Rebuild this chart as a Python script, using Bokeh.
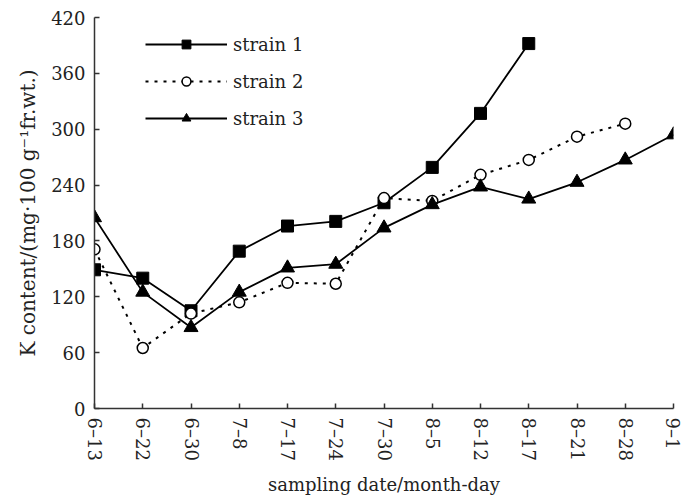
from bokeh.plotting import figure
from bokeh.models import Range1d, FixedTicker, Legend, LegendItem
from bokeh.embed import file_html
from bokeh.resources import INLINE

dates = ["6–13", "6–22", "6–30", "7–8", "7–17", "7–24", "7–30",
         "8–5", "8–12", "8–17", "8–21", "8–28", "9–1"]
strain1 = [149, 140, 105, 169, 196, 201, 221, 259, 317, 392]
strain2 = [171, 65, 102, 114, 135, 134, 226, 223, 251, 267, 292, 306]
strain3 = [205, 125, 87, 125, 151, 155, 194, 219, 238, 225, 243, 267, 294]
y_ticks = [0, 60, 120, 180, 240, 300, 360, 420]

x_pos = list(range(len(dates)))
FONT = "DejaVu Serif"

p = figure(width=682, height=497, x_range=Range1d(0, len(dates) - 1),
           y_range=Range1d(0, 420), output_backend="svg", toolbar_location=None,
           min_border_left=94, min_border_top=17, min_border_right=9,
           min_border_bottom=88)
p.outline_line_color = None
p.xgrid.grid_line_color = None
p.ygrid.grid_line_color = None
p.background_fill_color = "white"
p.border_fill_color = "white"

# x axis
xa = p.xaxis[0]
xa.ticker = FixedTicker(ticks=x_pos)
xa.major_label_overrides = {i: d for i, d in zip(x_pos, dates)}
xa.major_label_orientation = "vertical"
xa.axis_label = "sampling date/month-day"
# y axis
ya = p.yaxis[0]
ya.ticker = FixedTicker(ticks=y_ticks)
ya.axis_label = "K content/(mg·100 g⁻¹fr.wt.)"

for ax in (xa, ya):
    ax.major_tick_in = 5
    ax.major_tick_out = 0
    ax.minor_tick_line_color = None
    ax.axis_line_color = "#333333"
    ax.axis_line_width = 1.5
    ax.major_tick_line_color = "#333333"
    ax.major_tick_line_width = 1.5
    ax.major_label_text_font = FONT
    ax.major_label_text_font_size = "18px"
    ax.major_label_text_color = "#222222"
    ax.axis_label_text_font = FONT
    ax.axis_label_text_font_style = "normal"
    ax.axis_label_text_color = "#222222"
    ax.major_label_standoff = 9
xa.axis_label_text_font_size = "18px"
ya.axis_label_text_font_size = "20px"
xa.axis_label_standoff = 10
ya.axis_label_standoff = 8

l1 = p.line(x_pos[:len(strain1)], strain1, line_color="black", line_width=1.8)
s1 = p.scatter(x_pos[:len(strain1)], strain1, marker="square", size=12,
               fill_color="black", line_color="black")
l2 = p.line(x_pos[:len(strain2)], strain2, line_color="black", line_width=2,
            line_dash="3 6")
s2 = p.scatter(x_pos[:len(strain2)], strain2, marker="circle", size=11,
               fill_color="white", line_color="black", line_width=1.5)
l3 = p.line(x_pos[:len(strain3)], strain3, line_color="black", line_width=1.8)
s3 = p.scatter(x_pos[:len(strain3)], strain3, marker="triangle", size=14,
               fill_color="black", line_color="black")

legend = Legend(items=[
    LegendItem(label="strain 1", renderers=[l1, s1]),
    LegendItem(label="strain 2", renderers=[l2, s2]),
    LegendItem(label="strain 3", renderers=[l3, s3]),
], location=(51, 279))
legend.glyph_width = 82
legend.glyph_height = 22
legend.label_standoff = 6
legend.spacing = 15
legend.padding = 0
legend.margin = 0
legend.border_line_color = None
legend.background_fill_alpha = 0
legend.label_text_font = FONT
legend.label_text_font_size = "18px"
legend.label_text_color = "#222222"
p.add_layout(legend, "center")

open("out.html", "w").write(file_html(p, INLINE))
